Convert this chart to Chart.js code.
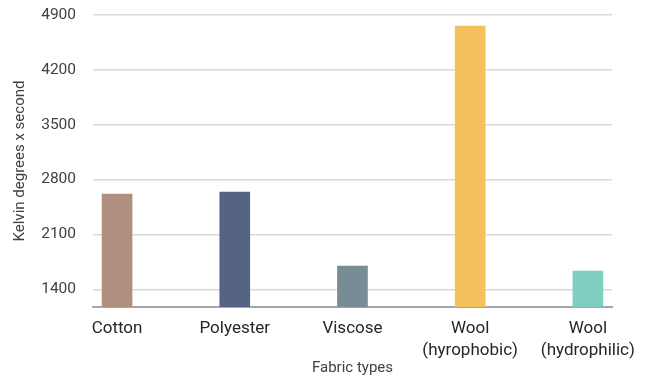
<!DOCTYPE html>
<html>
<head>
<meta charset="utf-8">
<script src="https://cdn.jsdelivr.net/npm/chart.js@4"></script>
<style>
  html, body { margin: 0; padding: 0; background: #ffffff; }
  #wrap { width: 651px; height: 378px; }
</style>
</head>
<body>
<div id="wrap"><canvas id="chart" width="651" height="378"></canvas></div>
<script>
// Fabric types and their thermal values (Kelvin degrees x second)
const fabrics = ['Cotton', 'Polyester', 'Viscose', ['Wool', '(hyrophobic)'], ['Wool', '(hydrophilic)']];
const kelvinSeconds = [2616, 2641, 1697, 4760, 1633];
const barColors = ['#B08F7E', '#556385', '#778C95', '#F3C25C', '#7ECFC0'];
const yTickValues = [1400, 2100, 2800, 3500, 4200, 4900];

// one bar per fabric, placed at its index on a linear x scale
const points = kelvinSeconds.map((v, i) => ({ x: i, y: v }));
const FONT = 'Roboto, "Liberation Sans", sans-serif';

new Chart(document.getElementById('chart'), {
  type: 'bar',
  data: {
    datasets: [{
      data: points,
      backgroundColor: barColors,
      borderWidth: 0,
      barThickness: 30
    }]
  },
  options: {
    responsive: false,
    animation: false,
    layout: { padding: { left: 11, right: 39, top: 15, bottom: 1 } },
    plugins: { legend: { display: false }, tooltip: { enabled: false } },
    scales: {
      x: {
        type: 'linear',
        offset: false,
        min: -0.204,
        max: 4.205,
        afterBuildTicks: (scale) => { scale.ticks = fabrics.map((_, i) => ({ value: i })); },
        ticks: {
          autoSkip: false,
          maxRotation: 0,
          padding: 11,
          color: '#262626',
          font: { family: FONT, size: 17, lineHeight: 1.3 },
          callback: (value) => fabrics[value]
        },
        grid: { display: false, drawTicks: false },
        border: { display: true, color: '#a6a6a6', width: 2 },
        title: {
          display: true,
          text: 'Fabric types',
          color: '#404040',
          font: { family: FONT, size: 15, lineHeight: 1 },
          padding: { top: -12.7, bottom: 1.5 }
        }
      },
      y: {
        min: 1175,
        max: 4900,
        afterBuildTicks: (scale) => { scale.ticks = yTickValues.map(v => ({ value: v })); },
        ticks: {
          padding: 5,
          color: '#404040',
          font: { family: FONT, size: 15.5 },
          callback: (value) => String(value)
        },
        grid: { color: '#d9d9d9', lineWidth: 1.5, drawTicks: true, tickLength: 12, tickColor: 'rgba(0,0,0,0)' },
        border: { display: false },
        title: {
          display: true,
          text: 'Kelvin degrees x second',
          color: '#404040',
          font: { family: FONT, size: 15 },
          padding: { top: 0, bottom: 7.2 }
        }
      }
    }
  }
});
</script>
</body>
</html>
